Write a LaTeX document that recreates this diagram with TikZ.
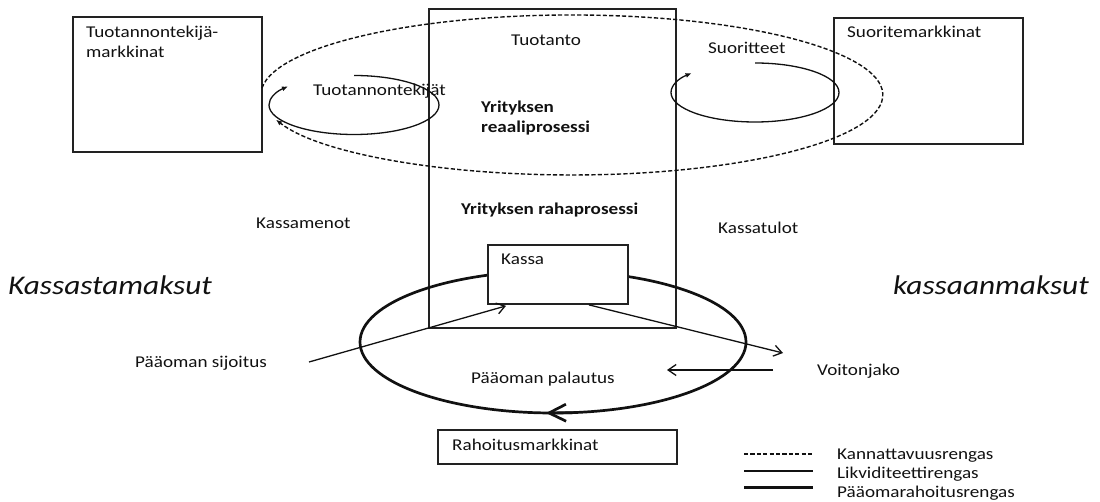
\documentclass[tikz,border=0pt]{standalone}
\usepackage{fontspec}
\setmainfont{Carlito}[FakeStretch=1.16]
\usetikzlibrary{arrows.meta,calc}
\definecolor{ink}{HTML}{111111}
\definecolor{boxline}{HTML}{222222}
\begin{document}
\begin{tikzpicture}[x=1pt,y=-1pt,
  box/.style={draw=boxline, line width=1.9pt, inner sep=0pt, anchor=north west},
  lbl/.style={inner sep=0pt, anchor=base west, text=ink, font=\fontsize{16.5}{20}\selectfont},
  bold/.style={lbl, font=\fontsize{16.5}{20}\selectfont\bfseries},
  big/.style={inner sep=0pt, anchor=base west, text=ink, font=\fontsize{27}{30}\selectfont\itshape},
  thinline/.style={draw=ink, line width=1.3pt},
  dashline/.style={draw=ink, line width=1.4pt, dash pattern=on 4.2pt off 2.2pt},
  thickline/.style={draw=ink, line width=2.7pt},
  smalltip/.style={-{Latex[length=6pt,width=5pt]}},
  opentip/.style={-{Straight Barb[length=8pt,width=11pt]}}
]
\useasboundingbox (0,0) rectangle (1100,502);

% boxes (outline only)
\node[box, minimum width=189pt, minimum height=135pt] (tm) at (72,16) {};
\node[box, minimum width=189pt, minimum height=126pt] (sm) at (833,17) {};
\node[box, minimum width=247pt, minimum height=319pt] (yr) at (428,8) {};

% profitability ring (dashed)
\coordinate (dstart) at (262,88);
\draw[dashline, smalltip] (dstart) arc[start angle=185, end angle=522, x radius=311, y radius=80];

% small liquidity rings
\coordinate (lstart) at (354,75.5);
\draw[thinline, smalltip] (lstart) arc[start angle=-90, end angle=219, x radius=85, y radius=29.5];
\coordinate (rstart) at (755,63);
\draw[thinline, smalltip] (rstart) arc[start angle=-90, end angle=221, x radius=84, y radius=29.5];

% capital financing ring (thick)
\coordinate (bigc) at (553,342);
\draw[thickline] (bigc) ellipse [x radius=193, y radius=71];
\coordinate (tipa) at (576,412.6);
\coordinate (tipb) at (546,413);
\draw[thickline, -{Straight Barb[length=17pt,width=17pt]}] (tipa) -- (tipb);

% Kassa box (covers ellipse top)
\node[box, fill=white, minimum width=140pt, minimum height=59pt] (kassa) at (487,244) {};
\node[box, fill=white, minimum width=239pt, minimum height=34pt] (rm) at (437,429) {};

% flows
\coordinate (sijstart) at (309,362);
\coordinate (sijend) at ($(kassa.south west)+(19,1)$);
\draw[thinline, opentip] (sijstart) -- (sijend);
\coordinate (voistart) at ($(kassa.south west)+(102,0)$);
\coordinate (voiend) at (783,353);
\draw[thinline, opentip] (voistart) -- (voiend);
\coordinate (palstart) at (773,370);
\coordinate (palend) at (667,370);
\draw[thinline, opentip] (palstart) -- (palend);

% texts
\node[lbl] (t1) at (86,38) {Tuotannontekijä-};
\node[lbl] (t2) at (86,58) {markkinat};
\node[lbl] (t3) at (847,38) {Suoritemarkkinat};
\node[lbl] (t4) at (511,46) {Tuotanto};
\node[lbl] (t5) at (708,54) {Suoritteet};
\node[lbl] (t6) at (313,96) {Tuotannontekijät};
\node[bold] (t7) at (481,113) {Yrityksen};
\node[bold] (t8) at (481,133) {reaaliprosessi};
\node[bold] (t9) at (461,215) {Yrityksen rahaprosessi};
\node[lbl] (t10) at (256,229) {Kassamenot};
\node[lbl] (t11) at (718,234) {Kassatulot};
\node[lbl] (t12) at (501,265) {Kassa};
\node[lbl] (t13) at (135,367) {Pääoman sijoitus};
\node[lbl] (t14) at (471,383) {Pääoman palautus};
\node[lbl] (t15) at (817,375) {Voitonjako};
\node[lbl] (t16) at (452,450) {Rahoitusmarkkinat};
\node[big] (t17) at (8,295) {Kassastamaksut};
\node[big] (t18) at (893,295) {kassaanmaksut};

% legend
\coordinate (l1a) at (744,454); \coordinate (l1b) at (813,454);
\coordinate (l2a) at (744,471); \coordinate (l2b) at (813,471);
\coordinate (l3a) at (744,487.5); \coordinate (l3b) at (813,487.5);
\draw[dashline] (l1a) -- (l1b);
\draw[thinline] (l2a) -- (l2b);
\draw[thickline] (l3a) -- (l3b);
\node[lbl] (g1) at (837,459) {Kannattavuusrengas};
\node[lbl] (g2) at (837,478) {Likviditeettirengas};
\node[lbl] (g3) at (837,497) {Pääomarahoitusrengas};
\end{tikzpicture}
\end{document}
